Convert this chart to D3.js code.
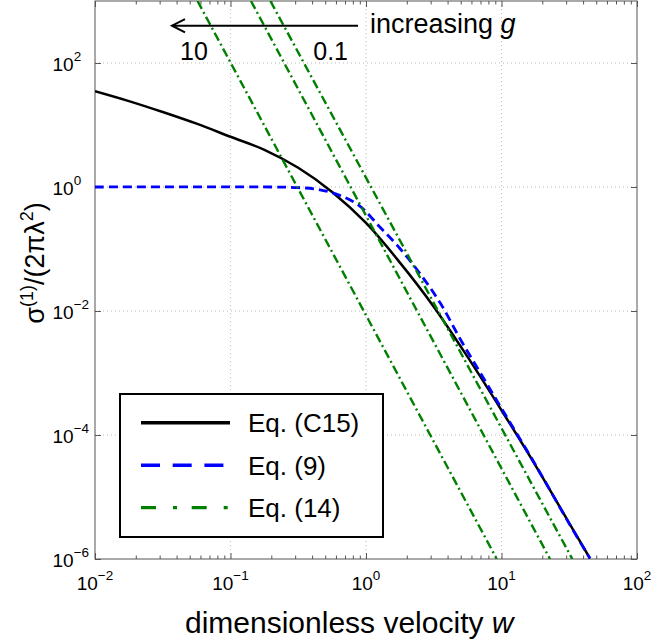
<!DOCTYPE html>
<html>
<head>
<meta charset="utf-8">
<script src="https://cdn.jsdelivr.net/npm/d3@7"></script>
<style>
  body { margin: 0; background: #fff; }
  svg { display: block; font-family: "Liberation Sans", Arial, Helvetica, sans-serif; }
</style>
</head>
<body>
<svg id="chart" width="653" height="642"></svg>
<script>
// ---- data ----
const X_TICKS = [1e-2, 1e-1, 1e0, 1e1, 1e2];
const X_TICK_EXP = ["\u22122", "\u22121", "0", "1", "2"];
const Y_TICKS = [1e-6, 1e-4, 1e-2, 1e0, 1e2];
const Y_TICK_EXP = ["\u22126", "\u22124", "\u22122", "0", "2"];
const Y_DOMAIN = [1e-6, 1e3];

// Eq. (C15), black solid
const W_C15 = [0.01, 0.0178, 0.0316, 0.0562, 0.1, 0.178, 0.316, 0.562, 1, 1.78, 3.16, 5.62, 10, 17.8, 31.6, 45];
const SIGMA_C15 = [35.1, 24.3, 16.2, 10.5, 6.46, 3.98, 2.04, 0.832, 0.263, 0.0603, 0.01175, 0.00182, 2.51e-4, 3.24e-5, 3.8e-6, 1.02e-6];

// Eq. (9), blue dashed
const W_EQ9 = [0.01, 0.2, 0.316, 0.447, 0.631, 0.891, 1.26, 1.78, 2.51, 3.55, 5.01, 7.08, 10, 17.8, 31.6, 45];
const SIGMA_EQ9 = [1, 1, 0.977, 0.912, 0.741, 0.501, 0.229, 0.102, 0.0398, 0.0132, 0.00339, 9.55e-4, 2.69e-4, 3.31e-5, 3.72e-6, 1.02e-6];

// Eq. (14), green dash-dot, one straight line per g (ends at top and bottom of the axes)
const G_VALUES = [10, 1, 0.1];
const W_EQ14 = [[0.0571, 9.22], [0.1416, 22.8], [0.197, 33.3]];
const SIGMA_EQ14 = [1e3, 1e-6];

const LEGEND_LABELS = ["Eq. (C15)", "Eq. (9)", "Eq. (14)"];

// ---- layout ----
const plot = { x0: 95, x1: 637, y0: 1, y1: 559 };
const AXIS_COLOR = "#555";
const GREEN = "#008000";

const svg = d3.select("#chart");

const x = d3.scaleLog().domain([X_TICKS[0], X_TICKS[X_TICKS.length - 1]]).range([plot.x0, plot.x1]);
const y = d3.scaleLog().domain(Y_DOMAIN).range([plot.y1, plot.y0]);

svg.append("defs").append("clipPath").attr("id", "clip")
  .append("rect")
  .attr("x", plot.x0).attr("y", plot.y0)
  .attr("width", plot.x1 - plot.x0).attr("height", plot.y1 - plot.y0);

// grid (dotted, majors only)
const grid = svg.append("g")
  .attr("stroke", "#b8b8b8")
  .attr("stroke-width", 1)
  .attr("stroke-dasharray", "1,3");

grid.selectAll(".gx")
  .data(X_TICKS.slice(1, -1))
  .join("line")
  .attr("class", "gx")
  .attr("x1", d => x(d)).attr("x2", d => x(d))
  .attr("y1", plot.y0).attr("y2", plot.y1);

grid.selectAll(".gy")
  .data(Y_TICKS.slice(1))
  .join("line")
  .attr("class", "gy")
  .attr("x1", plot.x0).attr("x2", plot.x1)
  .attr("y1", d => y(d)).attr("y2", d => y(d));

// ticks (inside), MATLAB style
const isMajor = d => Math.abs(Math.log10(d) - Math.round(Math.log10(d))) < 1e-6;
const minorX = x.ticks().filter(d => !isMajor(d));

function tickStyle(g) {
  g.select(".domain").remove();
  g.selectAll(".tick line").attr("stroke", AXIS_COLOR);
  g.selectAll(".tick text").remove();
}

[[d3.axisBottom, plot.y1], [d3.axisTop, plot.y0]].forEach(([axis, ty]) => {
  svg.append("g").attr("transform", `translate(0,${ty})`)
    .call(axis(x).tickValues(X_TICKS).tickSize(-6).tickFormat(""))
    .call(tickStyle);
  svg.append("g").attr("transform", `translate(0,${ty})`)
    .call(axis(x).tickValues(minorX).tickSize(-3.5).tickFormat(""))
    .call(tickStyle);
});

[[d3.axisLeft, plot.x0], [d3.axisRight, plot.x1]].forEach(([axis, tx]) => {
  svg.append("g").attr("transform", `translate(${tx},0)`)
    .call(axis(y).tickValues(Y_TICKS).tickSize(-6).tickFormat(""))
    .call(tickStyle);
});

// box
svg.append("rect")
  .attr("x", plot.x0).attr("y", plot.y0)
  .attr("width", plot.x1 - plot.x0).attr("height", plot.y1 - plot.y0)
  .attr("fill", "none")
  .attr("stroke", AXIS_COLOR)
  .attr("stroke-width", 1);

// tick labels
svg.append("g").attr("font-size", 19).attr("fill", "#000")
  .selectAll("text")
  .data(X_TICKS)
  .join("text")
  .attr("x", d => x(d))
  .attr("y", plot.y1 + 31)
  .attr("text-anchor", "middle")
  .each(function(d, i) {
    const t = d3.select(this);
    t.append("tspan").text("10");
    t.append("tspan").attr("font-size", 13.5).attr("dy", -10).text(X_TICK_EXP[i]);
  });

svg.append("g").attr("font-size", 19).attr("fill", "#000")
  .selectAll("text")
  .data(Y_TICKS)
  .join("text")
  .attr("x", 52.5)
  .attr("y", d => y(d) + 7.5)
  .each(function(d, i) {
    const t = d3.select(this);
    t.append("tspan").text("10");
    t.append("tspan").attr("font-size", 13.5).attr("dy", -10).text(Y_TICK_EXP[i]);
  });

// curves
const lines = svg.append("g").attr("clip-path", "url(#clip)").attr("fill", "none");

const curve = d3.line()
  .x(d => x(d[0]))
  .y(d => y(d[1]))
  .curve(d3.curveCatmullRom.alpha(0.5));

lines.append("path")
  .attr("d", curve(d3.zip(W_C15, SIGMA_C15)))
  .attr("stroke", "#000")
  .attr("stroke-width", 2.5);

lines.append("path")
  .attr("d", curve(d3.zip(W_EQ9, SIGMA_EQ9)))
  .attr("stroke", "#0000ff")
  .attr("stroke-width", 2.8)
  .attr("stroke-dasharray", "9,5");

const straight = d3.line().x(d => x(d[0])).y(d => y(d[1]));
lines.selectAll(".eq14")
  .data(G_VALUES)
  .join("path")
  .attr("class", "eq14")
  .attr("d", (g, i) => straight(d3.zip(W_EQ14[i], SIGMA_EQ14)))
  .attr("stroke", GREEN)
  .attr("stroke-width", 2.4)
  .attr("stroke-dasharray", "9,3.5,2,3.5");

// annotation: arrow + "increasing g"
const arrowY = y(400);
const arrowX0 = x(0.873), arrowX1 = x(0.037);
const ann = svg.append("g");
ann.append("line")
  .attr("x1", arrowX0).attr("x2", arrowX1)
  .attr("y1", arrowY).attr("y2", arrowY)
  .attr("stroke", "#000").attr("stroke-width", 2);
ann.append("path")
  .attr("d", `M${arrowX1 + 13},${arrowY - 6.6}L${arrowX1},${arrowY}L${arrowX1 + 13},${arrowY + 6.6}`)
  .attr("fill", "none").attr("stroke", "#000").attr("stroke-width", 2);

const inc = ann.append("text")
  .attr("x", x(1.07)).attr("y", y(301))
  .attr("font-size", 27);
inc.append("tspan").text("increasing ");
inc.append("tspan").attr("font-style", "italic").text("g");

ann.selectAll(".glabel")
  .data([[10, 0.0424], [0.1, 0.408]])
  .join("text")
  .attr("class", "glabel")
  .attr("x", d => x(d[1]))
  .attr("y", y(112))
  .attr("font-size", 25)
  .text(d => d[0]);

// axis titles
const xt = svg.append("text")
  .attr("x", 185).attr("y", 633)
  .attr("font-size", 30);
xt.append("tspan").text("dimensionless velocity ");
xt.append("tspan").attr("font-style", "italic").text("w");

const yt = svg.append("text")
  .attr("transform", "translate(44,263) rotate(-90)")
  .attr("text-anchor", "middle")
  .attr("font-size", 27);
yt.append("tspan").text("\u03c3");
yt.append("tspan").attr("font-size", 18).attr("dy", -11).text("(1)");
yt.append("tspan").attr("dy", 11).text("/(2\u03c0\u03bb");
yt.append("tspan").attr("font-size", 18).attr("dy", -11).text("2");
yt.append("tspan").attr("dy", 11).text(")");

// legend
const legend = svg.append("g");
legend.append("rect")
  .attr("x", 120).attr("y", 394)
  .attr("width", 263).attr("height", 143)
  .attr("fill", "#fff")
  .attr("stroke", "#000")
  .attr("stroke-width", 2);

const legendStyles = [
  { color: "#000", dash: null, width: 3.5 },
  { color: "#0000ff", dash: "19,12.7", width: 3.5 },
  { color: GREEN, dash: "15,17,4,14.7", width: 3.2 }
];

const items = legend.selectAll(".item")
  .data(LEGEND_LABELS)
  .join("g")
  .attr("class", "item")
  .attr("transform", (d, i) => `translate(0,${422.7 + i * 42.5})`);

items.append("line")
  .attr("x1", 141).attr("x2", (d, i) => i === 0 ? 230 : 228)
  .attr("stroke", (d, i) => legendStyles[i].color)
  .attr("stroke-width", (d, i) => legendStyles[i].width)
  .attr("stroke-dasharray", (d, i) => legendStyles[i].dash);

items.append("text")
  .attr("x", 248).attr("y", 9.5)
  .attr("font-size", 26)
  .text(d => d);
</script>
</body>
</html>
